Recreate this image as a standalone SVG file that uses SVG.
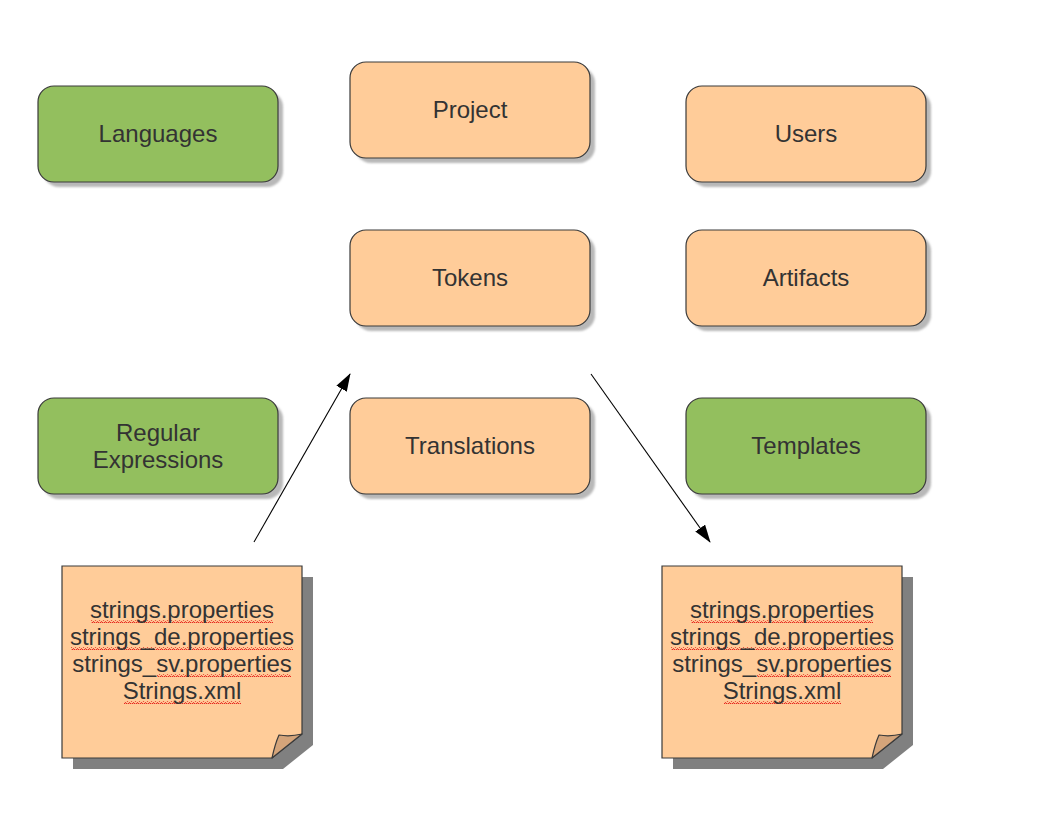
<svg xmlns="http://www.w3.org/2000/svg" width="1056" height="816" viewBox="0 0 1056 816">
<style>
  .box{stroke:#3a3a3a;stroke-width:1.2}
  .orange{fill:#ffcc99}
  .green{fill:#93bf5e}
  .shadow{fill:#b8b8b8;filter:url(#blur)}
  .lbl{font-family:"Liberation Sans",Arial,sans-serif;font-size:24px;fill:#333333;text-anchor:middle}
  .note{fill:#ffcc99;stroke:#3a3a3a;stroke-width:1.2}
  .nshadow{fill:#808080}
  .fold{fill:#d4a47a;stroke:#3a3a3a;stroke-width:1.2;stroke-linejoin:round}
  .conn{stroke:#000;stroke-width:1.1;fill:none;marker-end:url(#arrow)}
  .wave{fill:url(#wave)}
</style>
<defs>
  <filter id="blur" x="-10%" y="-10%" width="120%" height="120%"><feGaussianBlur stdDeviation="1.2"/></filter>
  <marker id="arrow" viewBox="0 0 18 12" refX="17" refY="6" markerWidth="18" markerHeight="12" markerUnits="userSpaceOnUse" orient="auto">
    <path d="M0,0 L18,6 L0,12 Z" fill="#000"/>
  </marker>
  <pattern id="wave" width="4" height="3" patternUnits="userSpaceOnUse">
    <path d="M0,2.2 L1,0.8 L2,0.8 L3,2.2 L4,2.2" fill="none" stroke="#e00000" stroke-width="0.8"/>
  </pattern>
</defs>
<rect width="1056" height="816" fill="#ffffff"/>

<g id="languages">
  <rect class="shadow" x="43" y="91" width="240" height="96" rx="16"/>
  <rect class="box green" x="38" y="86" width="240" height="96" rx="16"/>
  <text class="lbl" x="158" y="142">Languages</text>
</g>
<g id="project">
  <rect class="shadow" x="355" y="67" width="240" height="96" rx="16"/>
  <rect class="box orange" x="350" y="62" width="240" height="96" rx="16"/>
  <text class="lbl" x="470" y="118">Project</text>
</g>
<g id="users">
  <rect class="shadow" x="691" y="91" width="240" height="96" rx="16"/>
  <rect class="box orange" x="686" y="86" width="240" height="96" rx="16"/>
  <text class="lbl" x="806" y="142">Users</text>
</g>
<g id="tokens">
  <rect class="shadow" x="355" y="235" width="240" height="96" rx="16"/>
  <rect class="box orange" x="350" y="230" width="240" height="96" rx="16"/>
  <text class="lbl" x="470" y="286">Tokens</text>
</g>
<g id="artifacts">
  <rect class="shadow" x="691" y="235" width="240" height="96" rx="16"/>
  <rect class="box orange" x="686" y="230" width="240" height="96" rx="16"/>
  <text class="lbl" x="806" y="286">Artifacts</text>
</g>
<g id="regular-expressions">
  <rect class="shadow" x="43" y="403" width="240" height="96" rx="16"/>
  <rect class="box green" x="38" y="398" width="240" height="96" rx="16"/>
  <text class="lbl" x="158" y="441">Regular</text>
  <text class="lbl" x="158" y="468">Expressions</text>
</g>
<g id="translations">
  <rect class="shadow" x="355" y="403" width="240" height="96" rx="16"/>
  <rect class="box orange" x="350" y="398" width="240" height="96" rx="16"/>
  <text class="lbl" x="470" y="454">Translations</text>
</g>
<g id="templates">
  <rect class="shadow" x="691" y="403" width="240" height="96" rx="16"/>
  <rect class="box green" x="686" y="398" width="240" height="96" rx="16"/>
  <text class="lbl" x="806" y="454">Templates</text>
</g>

<g id="note-left">
  <path class="nshadow" d="M73,577 L313,577 L313,745 L283,769 L73,769 Z"/>
  <path class="note" d="M62,566 L302,566 L302,734 L272,758 L62,758 Z"/>
  <path class="fold" d="M272,758 Q275,744 279,735 Q290,737 302,734 Z"/>
  <rect class="wave" x="91" y="620" width="182" height="3"/>
  <rect class="wave" x="71" y="647" width="222" height="3"/>
  <rect class="wave" x="157" y="674" width="134" height="3"/>
  <rect class="wave" x="124" y="701" width="117" height="3"/>
  <text class="lbl" x="182" y="618">strings.properties</text>
  <text class="lbl" x="182" y="645">strings_de.properties</text>
  <text class="lbl" x="182" y="672">strings_sv.properties</text>
  <text class="lbl" x="182" y="699">Strings.xml</text>
</g>
<g id="note-right">
  <path class="nshadow" d="M673,577 L913,577 L913,745 L883,769 L673,769 Z"/>
  <path class="note" d="M662,566 L902,566 L902,734 L872,758 L662,758 Z"/>
  <path class="fold" d="M872,758 Q875,744 879,735 Q890,737 902,734 Z"/>
  <rect class="wave" x="691" y="620" width="182" height="3"/>
  <rect class="wave" x="671" y="647" width="222" height="3"/>
  <rect class="wave" x="757" y="674" width="134" height="3"/>
  <rect class="wave" x="724" y="701" width="117" height="3"/>
  <text class="lbl" x="782" y="618">strings.properties</text>
  <text class="lbl" x="782" y="645">strings_de.properties</text>
  <text class="lbl" x="782" y="672">strings_sv.properties</text>
  <text class="lbl" x="782" y="699">Strings.xml</text>
</g>

<g id="connectors">
  <line class="conn" x1="254" y1="542" x2="350" y2="374"/>
  <line class="conn" x1="591" y1="374" x2="710" y2="542"/>
</g>
</svg>
